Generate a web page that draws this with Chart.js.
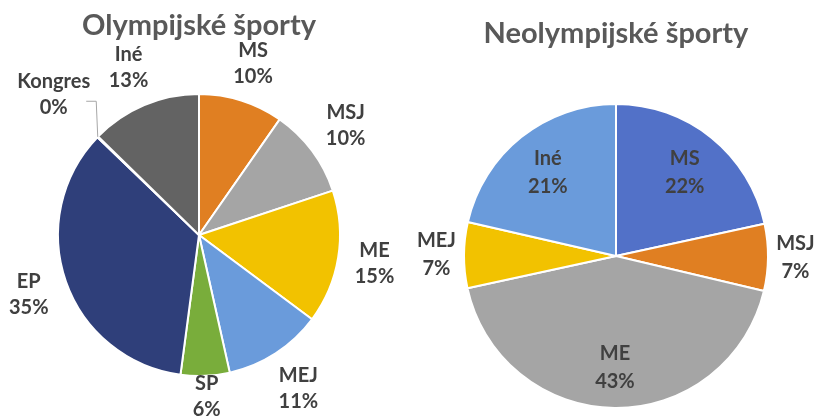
<!DOCTYPE html>
<html>
<head>
<meta charset="utf-8">
<script src="https://cdn.jsdelivr.net/npm/chart.js@4/dist/chart.umd.min.js"></script>
<style>
  html, body { margin: 0; padding: 0; background: #ffffff; }
  #wrap { position: relative; width: 814px; height: 419px; overflow: hidden; }
  .box { position: absolute; top: 0; width: 407px; height: 419px; }
</style>
</head>
<body>
<div id="wrap">
  <div class="box" style="left:0"><canvas id="c1" width="407" height="419"></canvas></div>
  <div class="box" style="left:407px"><canvas id="c2" width="407" height="419"></canvas></div>
</div>
<script>
// ---- data ----
const olyTitle = 'Olympijské športy';
const olyLabels = ['MS', 'MSJ', 'ME', 'MEJ', 'SP', 'EP', 'Kongres', 'Iné'];
const olyValues = [9.7, 10.2, 15.3, 11.3, 5.6, 35.1, 0.1, 12.7];

const neoTitle = 'Neolympijské športy';
const neoLabels = ['MS', 'MSJ', 'ME', 'MEJ', 'Iné'];
const neoValues = [21.6, 7.1, 42.9, 7.0, 21.4];

// ---- styles ----
const olyColors = ['#E07F22', '#A5A5A5', '#F2C200', '#6A9BDB', '#79AD3B', '#2F3F7A', '#9E480E', '#636363'];
const neoColors = ['#5271C8', '#E07F22', '#A5A5A5', '#F2C200', '#6A9BDB'];

const FONT = 'Lato, "Open Sans", sans-serif';
const LABEL_COLOR = '#404040';
const TITLE_COLOR = '#595959';

const sliceLabels = {
  id: 'sliceLabels',
  afterDatasetsDraw(chart, args, opts) {
    const ctx = chart.ctx;
    const meta = chart.getDatasetMeta(0);
    const data = chart.data.datasets[0].data;
    const total = data.reduce((a, b) => a + b, 0);
    const cap = opts.fontSize * 0.72;
    ctx.save();
    ctx.font = 'bold ' + opts.fontSize + 'px ' + FONT;
    ctx.fillStyle = LABEL_COLOR;
    ctx.textAlign = 'center';
    ctx.textBaseline = 'middle';
    meta.data.forEach((arc, i) => {
      const p = arc.getProps(['x', 'y', 'startAngle', 'endAngle', 'outerRadius'], true);
      const mid = (p.startAngle + p.endAngle) / 2;
      const c = Math.cos(mid), s = Math.sin(mid);
      const pct = data[i] / total * 100;
      const lines = [chart.data.labels[i], Math.round(pct) + '%'];
      const w = Math.max(...lines.map(t => ctx.measureText(t).width));
      const h = opts.lineGap + cap;
      let lx, ly;
      const tiny = pct < 1;
      if (pct >= opts.insideMin) {
        lx = p.x + c * p.outerRadius * opts.insideFrac;
        ly = p.y + s * p.outerRadius * opts.insideFrac + opts.insideDy;
      } else {
        const d = p.outerRadius + opts.pad + (tiny ? opts.tinyExtra : 0) + Math.abs(c) * w / 2 + Math.abs(s) * h / 2;
        lx = p.x + c * d;
        ly = p.y + s * d;
        // keep label inside the chart
        const maxY = chart.height - 2 - opts.lineGap / 2 - cap / 2;
        if (ly > maxY) ly = maxY;
      }
      if (tiny) {
        ctx.save();
        ctx.strokeStyle = '#A6A6A6';
        ctx.lineWidth = 1;
        ctx.beginPath();
        const ex = p.x + c * p.outerRadius, ey = p.y + s * p.outerRadius;
        const yy = ly + 7;
        ctx.moveTo(lx + w / 2 - 4, yy);
        ctx.lineTo(lx + w / 2 + 6, yy);
        ctx.lineTo(ex, ey);
        ctx.stroke();
        ctx.restore();
      }
      ctx.fillText(lines[0], lx, ly - opts.lineGap / 2);
      ctx.fillText(lines[1], lx, ly + opts.lineGap / 2);
    });
    ctx.restore();
  }
};

function makePie(id, title, labels, values, colors, layoutPad, titlePadBottom, labelOpts) {
  return new Chart(document.getElementById(id), {
    type: 'pie',
    data: {
      labels: labels,
      datasets: [{
        data: values,
        backgroundColor: colors,
        borderColor: '#ffffff',
        borderWidth: 2,
        hoverOffset: 0
      }]
    },
    options: {
      responsive: false,
      animation: false,
      devicePixelRatio: 1,
      layout: { padding: layoutPad },
      plugins: {
        legend: { display: false },
        tooltip: { enabled: false },
        title: {
          display: true,
          text: title,
          color: TITLE_COLOR,
          font: { family: FONT, size: 29, weight: 'bold', lineHeight: 1.2 },
          padding: { top: 0, bottom: titlePadBottom }
        },
        sliceLabels: labelOpts
      }
    },
    plugins: [sliceLabels]
  });
}

makePie('c1', olyTitle, olyLabels, olyValues, olyColors,
  { left: 57, right: 66, top: 8, bottom: 42 }, 50.2,
  { fontSize: 20, lineGap: 26, pad: 14, tinyExtra: 7, insideMin: 101, insideFrac: 0.74, insideDy: 0 });

makePie('c2', neoTitle, neoLabels, neoValues, neoColors,
  { left: 56, right: 45, top: 16, bottom: 10 }, 52.2,
  { fontSize: 20, lineGap: 28, pad: 8, tinyExtra: 0, insideMin: 10, insideFrac: 0.72, insideDy: 2 });
</script>
</body>
</html>
